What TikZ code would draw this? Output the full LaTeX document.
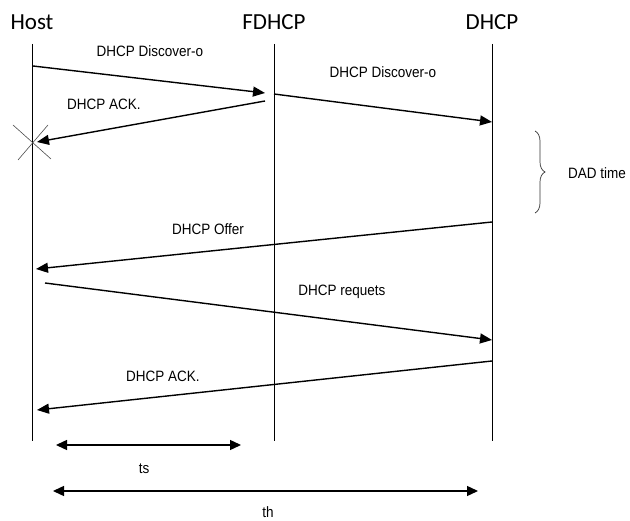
\documentclass[tikz,border=0pt]{standalone}
\usepackage{fontspec}
\setmainfont{Liberation Sans}
\newfontfamily\titlefont{Carlito}
\newfontfamily\labfont[FakeStretch=0.9]{Liberation Sans}
\usetikzlibrary{arrows.meta,decorations.pathreplacing}
\begin{document}
\begin{tikzpicture}[x=1pt,y=-1pt,
  lifeline/.style={line width=1pt},
  msg/.style={line width=1.4pt,-{Triangle[length=12pt,width=10pt]}},
  span/.style={line width=1.4pt,{Triangle[length=11pt,width=10pt]}-{Triangle[length=11pt,width=10pt]}},
  ttl/.style={font=\titlefont\fontsize{23}{26}\selectfont,inner sep=0pt},
  lab/.style={font=\labfont\fontsize{15}{17}\selectfont,inner sep=0pt}]
\useasboundingbox (0,0) rectangle (630,521);
% titles
\node[ttl] (thost) at (32,22) {Host};
\node[ttl] (tf) at (274,22) {FDHCP};
\node[ttl] (td) at (492,22) {DHCP};
% lifelines
\coordinate (h0) at (32,44); \coordinate (h1) at (32,441);
\coordinate (f0) at (274,44); \coordinate (f1) at (274,441);
\coordinate (d0) at (492,44); \coordinate (d1) at (492,441);
\draw[lifeline] (h0) -- (h1);
\draw[lifeline] (f0) -- (f1);
\draw[lifeline] (d0) -- (d1);
% message endpoints
\coordinate (m1s) at (33,66);  \coordinate (m1e) at (265,93);
\coordinate (m2s) at (274,94); \coordinate (m2e) at (492,122);
\coordinate (m3s) at (265,101);\coordinate (m3e) at (37,142);
\coordinate (m4s) at (492,222);\coordinate (m4e) at (36,269);
\coordinate (m5s) at (45,283); \coordinate (m5e) at (492,340);
\coordinate (m6s) at (492,361);\coordinate (m6e) at (37,410);
\draw[msg] (m1s) -- (m1e);
\draw[msg] (m2s) -- (m2e);
\draw[msg] (m3s) -- (m3e);
\draw[msg] (m4s) -- (m4e);
\draw[msg] (m5s) -- (m5e);
\draw[msg] (m6s) -- (m6e);
% labels
\node[lab] (l1) at (150,51) {DHCP Discover-o};
\node[lab] (l2) at (383,72) {DHCP Discover-o};
\node[lab] (l3) at (104,104) {DHCP ACK.};
\node[lab] (l4) at (208,229) {DHCP Offer};
\node[lab] (l5) at (342,292) {DHCP requets};
\node[lab] (l6) at (163,376) {DHCP ACK.};
% X mark
\coordinate (x1) at (13,125); \coordinate (x2) at (51,159);
\coordinate (x3) at (48,125); \coordinate (x4) at (18,160);
\draw[line width=0.6pt,black!70] (x1) -- (x2);
\draw[line width=0.6pt,black!70] (x3) -- (x4);
% brace
\coordinate (b0) at (535,131); \coordinate (b1) at (535,213);
\draw[line width=0.7pt,black!80,decoration={brace,amplitude=10pt,aspect=0.5},decorate] (b0) -- (b1);
\node[lab] (dad) at (597,173) {DAD time};
% spans
\coordinate (s0) at (56,445); \coordinate (s1) at (241,445);
\coordinate (t0) at (53,491); \coordinate (t1) at (478,491);
\draw[span] (s0) -- (s1);
\draw[span] (t0) -- (t1);
\node[lab] (ts) at (144,469) {ts};
\node[lab] (th) at (268,512) {th};
\end{tikzpicture}
\end{document}
